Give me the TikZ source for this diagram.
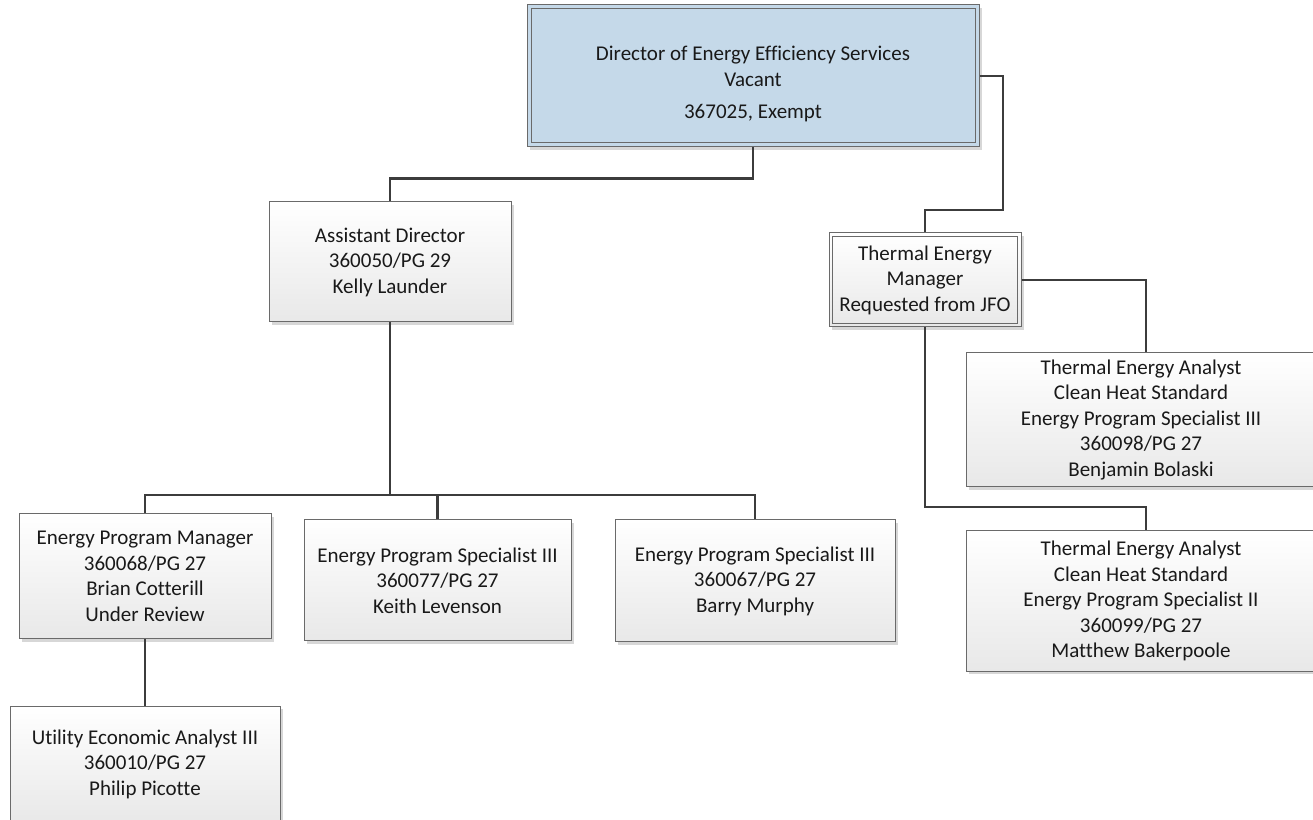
\documentclass[tikz,border=0pt]{standalone}
\usepackage{fontspec}
\setmainfont[Ligatures=NoCommon]{Carlito}
\usetikzlibrary{shadows,calc}

\definecolor{lineclr}{HTML}{3C3C3C}
\definecolor{edgeclr}{HTML}{6A6A6A}
\definecolor{dirblue}{HTML}{C5D9E9}

\tikzset{
  orgtext/.style={align=center, inner sep=0pt,
    font=\fontsize{21}{25.5}\selectfont, text=black!90,
    execute at begin node={\rule{0pt}{20.5pt}}},
  orgbox/.style={orgtext, draw=edgeclr, line width=1pt,
    top color=white, bottom color=black!9,
    drop shadow={shadow xshift=3pt, shadow yshift=-3pt, opacity=0.35, fill=black!45}},
  dirbox/.style={draw=edgeclr, line width=1pt, fill=dirblue, inner sep=0pt,
    drop shadow={shadow xshift=3pt, shadow yshift=-3pt, opacity=0.35, fill=black!45}},
  innerframe/.style={draw=edgeclr, line width=1pt},
  link/.style={draw=lineclr, line width=2.6pt},
}

\begin{document}
\begin{tikzpicture}[x=1pt,y=1pt]
\useasboundingbox (0,0) rectangle (1313,819);

% top of the chart
\node[dirbox, minimum width=452pt, minimum height=142pt] (dir) at (753,743) {};
\draw[innerframe] ([shift={(4.5,-4.5)}]dir.north west) rectangle ([shift={(-4.5,4.5)}]dir.south east);
\node[orgtext] (dirtxt) at (753,735) {Director of Energy Efficiency Services\\Vacant\\[7pt]367025, Exempt};

% second level
\node[orgbox, minimum width=242pt, minimum height=120pt] (ad) at (390,557)
  {Assistant Director\\360050/PG 29\\Kelly Launder};
\node[orgbox, minimum width=192pt, minimum height=94pt] (mgr) at (925,539)
  {Thermal Energy\\Manager\\Requested from JFO};
\draw[innerframe] ([shift={(4,-4)}]mgr.north west) rectangle ([shift={(-4,4)}]mgr.south east);

% staff under the assistant director
\node[orgbox, minimum width=252pt, minimum height=125pt] (epm) at (145,242.5)
  {Energy Program Manager\\360068/PG 27\\Brian Cotterill\\Under Review};
\node[orgbox, minimum width=267pt, minimum height=121pt] (eps1) at (437.5,238.5)
  {Energy Program Specialist III\\360077/PG 27\\Keith Levenson};
\node[orgbox, minimum width=280pt, minimum height=122pt] (eps2) at (755,238)
  {Energy Program Specialist III\\360067/PG 27\\Barry Murphy};
\node[orgbox, minimum width=270pt, minimum height=116pt] (uea) at (145,55)
  {Utility Economic Analyst III\\360010/PG 27\\Philip Picotte};

% thermal energy analysts
\node[orgbox, minimum width=350pt, minimum height=134pt] (tea1) at (1141,399)
  {Thermal Energy Analyst\\Clean Heat Standard\\Energy Program Specialist III\\360098/PG 27\\Benjamin Bolaski};
\node[orgbox, minimum width=350pt, minimum height=140pt] (tea2) at (1141,218)
  {Thermal Energy Analyst\\Clean Heat Standard\\Energy Program Specialist II\\360099/PG 27\\Matthew Bakerpoole};

% connector routing levels
\coordinate (dirbend) at (1003,609);
\coordinate (bus) at (390,324);
\coordinate (mgrbus) at (925,312);

% reporting lines
\draw[link] (dir.south) -- ++(0,-31) -| (ad.north);
\draw[link] (dir.east) -| (dirbend) -| (mgr.north);
\draw[link] (ad.south) -- (bus);
\draw[link] (epm.north) -- (epm.north |- bus) -- (eps2.north |- bus) -- (eps2.north);
\draw[link] (eps1.north) -- (eps1.north |- bus);
\draw[link] (epm.south) -- (uea.north);
\draw[link] (mgr.east) -| ([xshift=5pt]tea1.north);
\draw[link] (mgr.south) -- (mgrbus) -| ([xshift=5pt]tea2.north);
\end{tikzpicture}
\end{document}
